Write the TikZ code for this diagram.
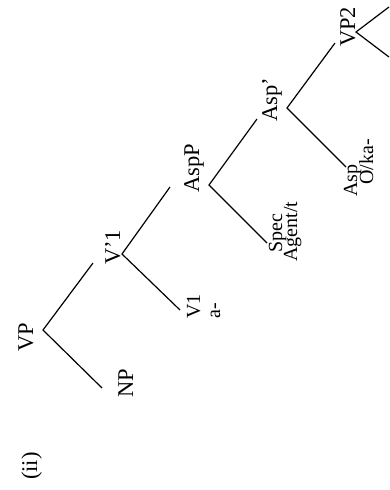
\documentclass[tikz,border=0pt]{standalone}
\usepackage{fontspec}
\setmainfont{Liberation Serif}
\begin{document}
\begin{tikzpicture}[x=1pt,y=-1pt,
  lab/.style={rotate=90,anchor=base west,inner sep=0pt,font=\fontsize{22.5}{24}\selectfont},
  leaf/.style={lab,font=\fontsize{20}{22}\selectfont},
  branch/.style={line width=1.2pt}]
\useasboundingbox (0,0) rectangle (389,490);
% labels
\node[lab] (ii) at (37,480) {(ii)};
\node[lab] (vp) at (33,352) {VP};
\node[lab] (np) at (133,398) {NP};
\node[lab] (v1bar) at (120,265) {V’1};
\node[leaf] (v1) at (200,319) {V1};
\node[leaf] (a) at (220,319) {a-};
\node[lab] (aspp) at (199,193) {AspP};
\node[lab] (aspbar) at (277,122) {Asp’};
\node[leaf] (spec) at (282,253) {Spec};
\node[leaf] (agent) at (297,262) {Agent/t};
\node[leaf] (asp) at (357,197) {Asp};
\node[leaf] (oka) at (373,185) {O/ka-};
\node[lab] (vp2) at (355,47) {VP2};
% branch points and ends
\coordinate (vpv) at (43,330);
\coordinate (npt) at (102,388);
\coordinate (v1bart) at (93,263);
\coordinate (v1barv) at (122,254);
\coordinate (v1t) at (180,310);
\coordinate (asppt) at (170,187);
\coordinate (asppv) at (209,185);
\coordinate (spect) at (267,243);
\coordinate (aspbart) at (257,119);
\coordinate (aspbarv) at (287,108);
\coordinate (aspt) at (346,167);
\coordinate (vp2t) at (335,43);
\coordinate (vp2v) at (356,32);
\coordinate (endup) at (389,7);
\coordinate (enddown) at (389,57);
% connectors
\draw[branch] (npt) -- (vpv) -- (v1bart);
\draw[branch] (v1t) -- (v1barv) -- (asppt);
\draw[branch] (spect) -- (asppv) -- (aspbart);
\draw[branch] (aspt) -- (aspbarv) -- (vp2t);
\draw[branch] (enddown) -- (vp2v) -- (endup);
\end{tikzpicture}
\end{document}
